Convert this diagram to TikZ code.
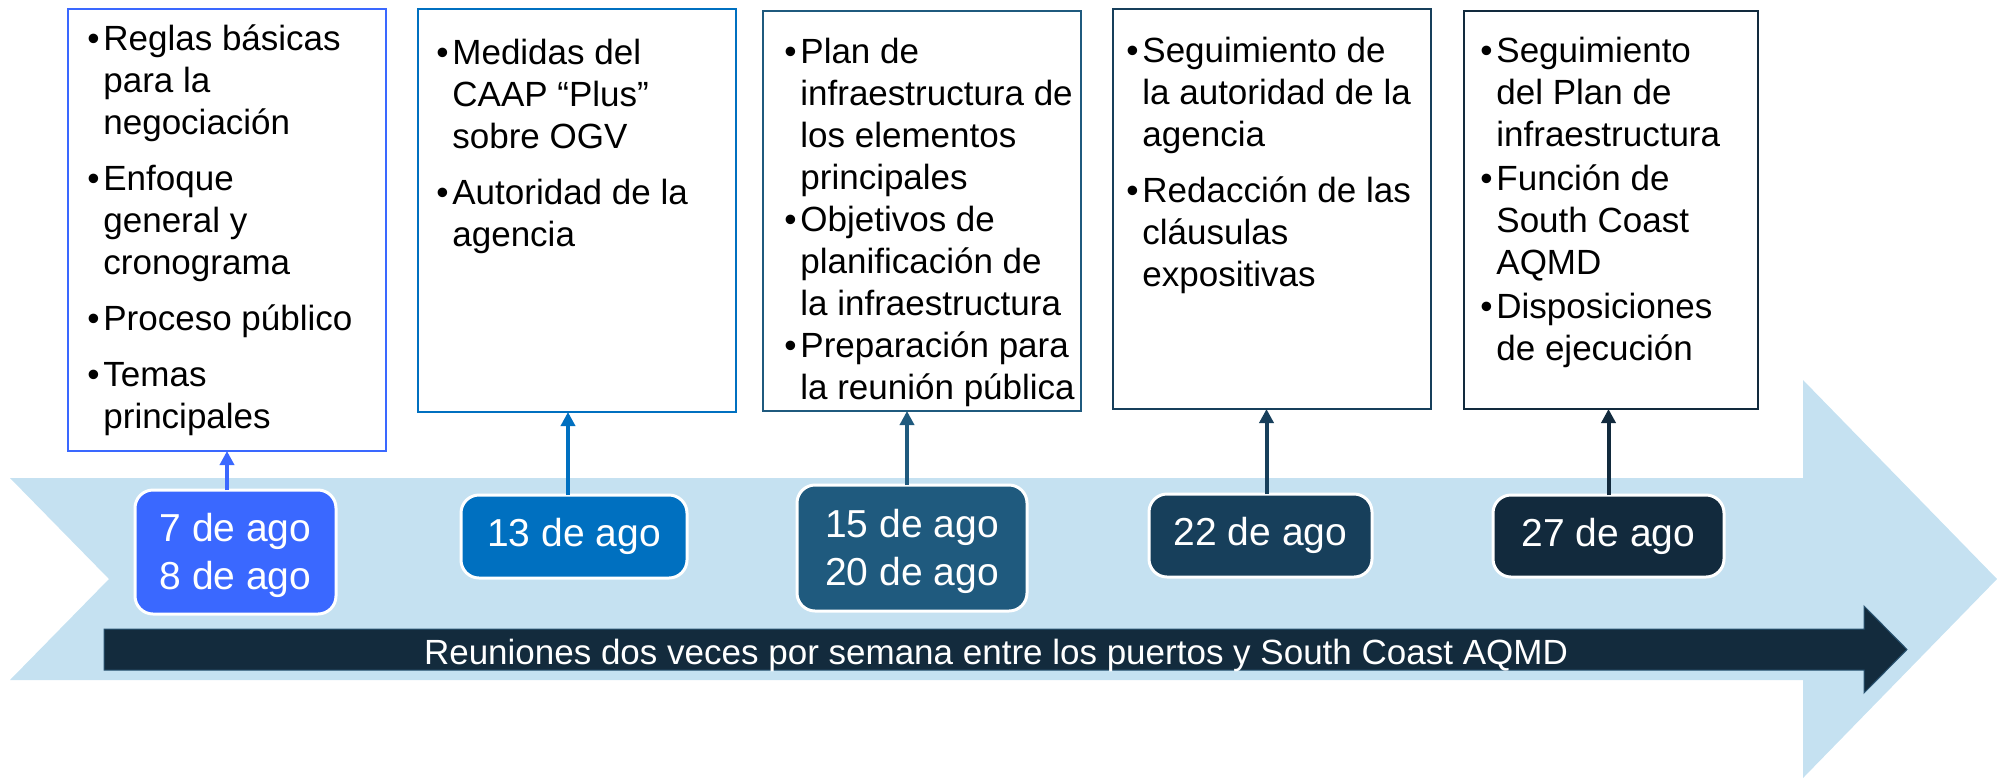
\documentclass[tikz,border=0pt]{standalone}
\usepackage{fontspec}
\setmainfont{Liberation Sans}
\usetikzlibrary{arrows.meta}
\definecolor{c1}{HTML}{3A68FF}
\definecolor{c2}{HTML}{0070C0}
\definecolor{c3}{HTML}{1F5A7E}
\definecolor{c4}{HTML}{173F5B}
\definecolor{c5}{HTML}{122A3D}
\definecolor{band}{HTML}{C5E1F1}
\definecolor{bar}{HTML}{132B3D}
\definecolor{barline}{HTML}{2A5472}
\newcommand\bitem[1]{\par\hangindent=8pt\hangafter=1\noindent\makebox[8pt][l]{\textbullet}\rule{0pt}{15pt}#1\par}
\newcommand\blist[2]{\parbox[t]{165pt}{\raggedright\setlength{\parskip}{#1}#2}}
\begin{document}
\begin{tikzpicture}[x=0.5pt,y=-0.5pt,
  infobox/.style={draw=#1, line width=1pt, fill=white, anchor=north west, inner sep=0pt, outer sep=0pt},
  itemtext/.style={anchor=base west, inner sep=0pt, font=\fontsize{17.5}{21}\selectfont},
  datebox/.style={fill=#1, draw=white, line width=1.5pt, rounded corners=9pt, text=white, align=center, inner sep=0pt, outer sep=0pt, font=\fontsize{19.5}{24}\selectfont},
  link/.style={draw=#1, line width=2pt, -{Triangle[width=7pt,length=7pt]}},
]
\useasboundingbox (0,0) rectangle (1997,778);
% background band arrow
\fill[band] (10,478) -- (1803,478) -- (1803,380) -- (1997,579) -- (1803,778) -- (1803,680) -- (10,680) -- (109,579) -- cycle;
% dark bar arrow
\filldraw[fill=bar, draw=barline, line width=0.5pt] (104,629) -- (1864,629) -- (1864,606) -- (1907,649.5) -- (1864,693) -- (1864,670) -- (104,670) -- cycle;
\node[text=white, inner sep=0pt, anchor=base, font=\fontsize{17.5}{21}\selectfont] (bt) at (996,664) {Reuniones dos veces por semana entre los puertos y South Coast AQMD};

% info boxes
\node[infobox=c1, minimum width=159pt, minimum height=221pt] (b1) at (68,9) {};
\node[infobox=c2, minimum width=159pt, minimum height=201.5pt] (b2) at (418,9) {};
\node[infobox=c3, minimum width=159pt, minimum height=200pt] (b3) at (763,11) {};
\node[infobox=c4, minimum width=159pt, minimum height=200pt] (b4) at (1113,9) {};
\node[infobox=c5, minimum width=147pt, minimum height=199pt] (b5) at (1464,11) {};

\node[itemtext] (t1) at (87,50) {\blist{7pt}{%
\bitem{Reglas básicas\newline para la\newline negociación}
\bitem{Enfoque\newline general y\newline cronograma}
\bitem{Proceso público}
\bitem{Temas\newline principales}}};

\node[itemtext] (t2) at (436,64.5) {\blist{7pt}{%
\bitem{Medidas del\newline CAAP “Plus”\newline sobre OGV}
\bitem{Autoridad de la\newline agencia}}};

\node[itemtext] (t3) at (784,63.5) {\blist{0pt}{%
\bitem{Plan de\newline infraestructura de\newline los elementos\newline principales}
\bitem{Objetivos de\newline planificación de\newline la infraestructura}
\bitem{Preparación para\newline la reunión pública}}};

\node[itemtext] (t4) at (1126,62) {\blist{7pt}{%
\bitem{Seguimiento de\newline la autoridad de la\newline agencia}
\bitem{Redacción de las\newline cláusulas\newline expositivas}}};

\node[itemtext] (t5) at (1480,62) {\blist{1pt}{%
\bitem{Seguimiento\newline del Plan de\newline infraestructura}
\bitem{Función de\newline South Coast\newline AQMD}
\bitem{Disposiciones\newline de ejecución}}};

% date boxes
\node[datebox=c1, minimum width=100.5pt, minimum height=62pt] (d1) at (235.5,552) {\rule{0pt}{18pt}7 de ago\\8 de ago};
\node[datebox=c2, minimum width=113pt, minimum height=41.5pt] (d2) at (574,536.5) {13 de ago};
\node[datebox=c3, minimum width=115pt, minimum height=63pt] (d3) at (912,548) {\rule{0pt}{18pt}15 de ago\\20 de ago};
\node[datebox=c4, minimum width=111.5pt, minimum height=41.5pt] (d4) at (1260.5,535.5) {22 de ago};
\node[datebox=c5, minimum width=115.5pt, minimum height=41pt] (d5) at (1608.5,536) {27 de ago};

% connectors
\draw[link=c1] (b1.south |- d1.north) -- (b1.south);
\draw[link=c2] ([xshift=-3pt]d2.north) -- ([xshift=-3pt]d2.north |- b2.south);
\draw[link=c3] ([xshift=-2.5pt]d3.north) -- ([xshift=-2.5pt]d3.north |- b3.south);
\draw[link=c4] ([xshift=3pt]d4.north) -- ([xshift=3pt]d4.north |- b4.south);
\draw[link=c5] (d5.north) -- (d5.north |- b5.south);
\end{tikzpicture}
\end{document}
